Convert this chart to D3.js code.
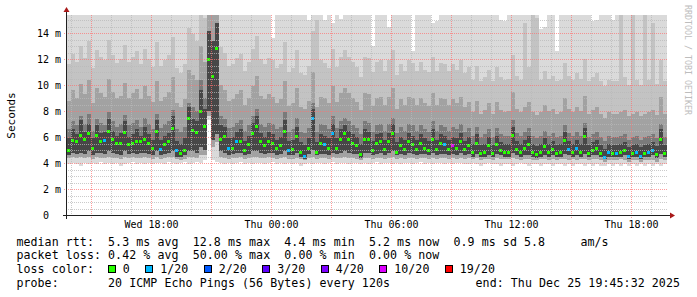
<!DOCTYPE html>
<html>
<head>
<meta charset="utf-8">
<script src="https://cdn.jsdelivr.net/npm/d3@7"></script>
<style>
  body { margin: 0; background: #fff; }
  svg text { font-family: "DejaVu Sans Mono", monospace; white-space: pre; }
</style>
</head>
<body>
<div id="chart"></div>
<script>
// one sample every 12 minutes, 30 hours shown
const startTime = "2025-12-24T13:48:00Z";
const stepMinutes = 12;

// median rtt per sample (ms)
const median = [
  4.9, 5.7, 5.6, 6.1, 5.8, 6.2, 5.1, 6.1, 5.6, 5.7,
  6.4, 5.8, 5.5, 5.5, 6.3, 5.4, 5.5, 5.6, 5.6, 5.8,
  5.5, 5.1, 6.4, 5.0, 5.4, 5.6, 6.6, 4.9, 4.7, 4.9,
  7.4, 6.5, 6.3, 7.9, 6.8, 11.9, 10.6, 12.8, 5.8, 6.0,
  5.1, 5.1, 5.6, 5.6, 4.9, 5.4, 6.2, 6.8, 5.6, 5.3,
  5.6, 5.5, 5.1, 5.3, 6.4, 4.9, 5.0, 6.0, 4.8, 4.5,
  5.1, 7.4, 4.8, 5.5, 5.4, 5.1, 6.2, 5.1, 5.8, 6.2,
  5.8, 5.5, 5.3, 4.6, 5.8, 5.8, 4.9, 5.5, 5.6, 5.0,
  5.6, 6.2, 4.8, 5.3, 5.0, 5.6, 5.4, 5.0, 5.5, 5.1,
  4.9, 5.8, 5.0, 5.5, 5.4, 5.0, 5.3, 5.1, 5.6, 5.0,
  5.3, 4.8, 5.5, 4.7, 4.8, 5.3, 4.7, 5.4, 4.9, 4.8,
  4.8, 6.1, 5.0, 4.8, 5.1, 5.4, 4.8, 4.6, 4.8, 5.2,
  4.8, 5.0, 4.7, 4.8, 5.7, 5.0, 4.8, 5.1, 4.8, 6.0,
  4.7, 4.9, 5.1, 4.7, 4.4, 4.8, 4.7, 4.7, 4.8, 4.9,
  4.5, 4.7, 4.8, 4.5, 4.7, 4.8, 4.9, 4.6, 5.8, 4.7
];

// smoke: spread of the 20 pings per sample (ms), bottom to top
const minRtt = [
  3.9, 4.0, 3.9, 3.8, 4.0, 3.9, 4.0, 3.9, 4.1, 3.9,
  4.0, 3.9, 4.0, 3.8, 3.9, 4.0, 4.1, 3.9, 4.0, 3.9,
  4.0, 3.9, 4.0, 4.0, 3.9, 4.1, 4.0, 3.9, 4.0, 4.1,
  3.9, 4.0, 4.1, 4.0, 4.2, 7.3, 4.2, 4.1, 4.0, 3.9,
  4.0, 3.9, 4.0, 4.1, 3.9, 4.0, 3.9, 4.0, 4.0, 3.9,
  4.0, 4.1, 3.9, 4.0, 3.9, 4.0, 3.9, 4.0, 3.8, 3.9,
  4.0, 3.9, 4.0, 4.0, 3.9, 4.0, 4.1, 3.9, 4.0, 4.0,
  3.9, 4.0, 4.0, 3.9, 4.0, 3.9, 4.0, 4.1, 3.9, 4.0,
  4.0, 3.9, 4.0, 3.9, 4.0, 4.0, 3.9, 4.0, 4.1, 3.9,
  4.0, 3.9, 4.0, 4.0, 3.9, 4.0, 3.9, 4.0, 4.0, 3.9,
  3.9, 4.0, 3.9, 3.8, 3.9, 4.0, 3.9, 3.9, 3.8, 3.9,
  3.9, 3.8, 3.9, 4.0, 3.9, 3.8, 3.9, 3.9, 3.8, 3.9,
  3.9, 3.8, 3.9, 3.9, 3.8, 3.9, 3.8, 3.9, 3.9, 3.8,
  3.9, 3.8, 3.9, 3.8, 3.8, 3.9, 3.8, 3.9, 3.8, 3.9,
  3.8, 3.9, 3.8, 3.9, 3.8, 3.9, 3.8, 3.9, 3.8, 3.9
];
const baseRtt = [
  4.4, 4.5, 4.4, 4.5, 4.4, 4.5, 4.3, 4.5, 4.4, 4.4,
  4.5, 4.4, 4.4, 4.3, 4.5, 4.4, 4.5, 4.4, 4.4, 4.5,
  4.4, 4.3, 4.5, 4.3, 4.4, 4.5, 4.5, 4.3, 4.2, 4.3,
  4.5, 4.5, 4.4, 4.6, 4.6, 7.6, 5.2, 5.6, 4.5, 4.4,
  4.3, 4.4, 4.4, 4.5, 4.3, 4.4, 4.5, 4.5, 4.4, 4.4,
  4.5, 4.4, 4.3, 4.4, 4.5, 4.3, 4.3, 4.4, 4.3, 4.2,
  4.4, 4.5, 4.3, 4.4, 4.4, 4.3, 4.5, 4.4, 4.4, 4.5,
  4.4, 4.4, 4.3, 4.2, 4.4, 4.4, 4.3, 4.4, 4.4, 4.3,
  4.4, 4.5, 4.3, 4.4, 4.3, 4.4, 4.4, 4.3, 4.4, 4.4,
  4.3, 4.4, 4.3, 4.4, 4.4, 4.3, 4.4, 4.3, 4.4, 4.3,
  4.4, 4.3, 4.4, 4.2, 4.3, 4.3, 4.2, 4.4, 4.3, 4.3,
  4.3, 4.4, 4.3, 4.2, 4.3, 4.3, 4.2, 4.2, 4.3, 4.3,
  4.2, 4.3, 4.2, 4.3, 4.3, 4.2, 4.3, 4.2, 4.3, 4.3,
  4.2, 4.3, 4.3, 4.2, 4.1, 4.2, 4.2, 4.2, 4.3, 4.2,
  4.1, 4.2, 4.2, 4.1, 4.2, 4.2, 4.2, 4.1, 4.3, 4.2
];
const lowRtt = [
  4.6, 4.8, 4.7, 4.8, 4.7, 4.9, 4.6, 4.8, 4.8, 4.7,
  4.9, 4.8, 4.7, 4.6, 4.9, 4.7, 4.8, 4.7, 4.8, 4.8,
  4.7, 4.6, 4.9, 4.6, 4.7, 4.8, 4.9, 4.5, 4.5, 4.6,
  4.9, 4.9, 4.8, 5.2, 5.0, 8.0, 5.8, 6.2, 4.9, 4.8,
  4.6, 4.7, 4.8, 4.8, 4.6, 4.7, 4.9, 4.9, 4.8, 4.7,
  4.8, 4.8, 4.6, 4.7, 4.9, 4.6, 4.6, 4.8, 4.5, 4.3,
  4.7, 5.0, 4.6, 4.7, 4.7, 4.6, 4.8, 4.7, 4.8, 4.9,
  4.8, 4.7, 4.7, 4.4, 4.8, 4.8, 4.6, 4.7, 4.8, 4.6,
  4.8, 4.9, 4.6, 4.7, 4.6, 4.8, 4.7, 4.6, 4.7, 4.7,
  4.6, 4.8, 4.6, 4.7, 4.7, 4.6, 4.7, 4.6, 4.8, 4.6,
  4.7, 4.5, 4.7, 4.5, 4.5, 4.6, 4.5, 4.7, 4.6, 4.5,
  4.5, 4.8, 4.6, 4.5, 4.6, 4.6, 4.5, 4.4, 4.5, 4.6,
  4.5, 4.6, 4.5, 4.5, 4.7, 4.6, 4.5, 4.6, 4.5, 4.7,
  4.5, 4.6, 4.6, 4.5, 4.3, 4.5, 4.5, 4.5, 4.5, 4.6,
  4.3, 4.5, 4.5, 4.3, 4.5, 4.5, 4.6, 4.4, 4.7, 4.5
];
const darkTop = [
  5.9, 6.6, 6.2, 7.3, 6.4, 7.0, 5.9, 6.9, 6.3, 6.4,
  7.4, 6.5, 6.1, 6.3, 7.2, 6.0, 6.2, 6.6, 6.1, 6.8,
  6.2, 5.8, 7.3, 5.8, 6.1, 6.3, 7.6, 5.7, 5.5, 5.9,
  8.3, 7.4, 7.2, 9.6, 8.2, 14.2, 13.4, 14.8, 6.9, 6.8,
  5.9, 6.0, 6.4, 6.6, 5.7, 6.1, 7.1, 7.6, 6.3, 6.0,
  6.4, 6.2, 5.8, 6.0, 7.3, 5.7, 5.8, 6.8, 5.6, 5.4,
  5.9, 8.2, 5.6, 6.2, 6.1, 5.9, 7.0, 5.9, 6.6, 6.9,
  6.5, 6.2, 6.0, 5.5, 6.6, 6.4, 5.7, 6.2, 6.3, 5.8,
  6.3, 7.0, 5.6, 6.0, 5.8, 6.3, 6.1, 5.8, 6.2, 5.9,
  5.7, 6.6, 5.8, 6.2, 6.1, 5.8, 6.0, 5.9, 6.3, 5.7,
  6.0, 5.5, 6.2, 5.4, 5.5, 6.0, 5.4, 6.1, 5.6, 5.5,
  5.5, 6.8, 5.7, 5.5, 5.8, 6.1, 5.5, 5.3, 5.5, 5.9,
  5.5, 5.7, 5.4, 5.5, 6.4, 5.7, 5.5, 5.8, 5.5, 6.7,
  5.4, 5.6, 5.8, 5.4, 5.1, 5.5, 5.4, 5.4, 5.5, 5.6,
  5.2, 5.4, 5.5, 5.2, 5.4, 5.5, 5.6, 5.3, 6.6, 5.4
];
const upperRtt = [
  6.6, 7.2, 6.9, 7.6, 7.0, 7.8, 6.5, 7.4, 7.1, 6.9,
  7.9, 7.2, 6.8, 7.0, 7.7, 6.9, 7.1, 7.3, 6.8, 7.5,
  7.0, 6.6, 7.8, 6.7, 7.0, 7.2, 8.1, 6.6, 6.4, 6.8,
  8.6, 8.3, 8.0, 10.4, 9.0, 14.2, 13.4, 14.8, 7.6, 7.4,
  6.7, 6.8, 7.1, 7.3, 6.5, 6.9, 7.6, 8.2, 7.0, 6.8,
  7.1, 7.0, 6.6, 6.8, 7.9, 6.4, 6.6, 7.5, 6.4, 6.3,
  6.7, 8.6, 6.4, 7.0, 6.9, 6.6, 7.6, 6.7, 7.2, 7.5,
  7.2, 6.9, 6.7, 6.2, 7.2, 7.1, 6.4, 6.9, 7.0, 6.5,
  7.0, 7.5, 6.3, 6.8, 6.5, 7.0, 6.9, 6.5, 6.9, 6.6,
  6.4, 7.2, 6.5, 6.9, 6.8, 6.5, 6.8, 6.6, 7.0, 6.4,
  6.7, 6.1, 6.8, 6.0, 6.2, 6.6, 6.0, 6.7, 6.2, 6.1,
  6.1, 7.3, 6.3, 6.1, 6.4, 6.7, 6.1, 5.9, 6.1, 6.5,
  6.1, 6.3, 6.0, 6.1, 6.9, 6.3, 6.1, 6.4, 6.1, 7.1,
  6.0, 6.2, 6.4, 6.0, 5.7, 6.1, 6.0, 6.0, 6.1, 6.2,
  5.8, 6.0, 6.1, 5.8, 6.0, 6.1, 6.2, 5.9, 7.0, 6.0
];
const midTop = [
  8.8, 9.6, 9.0, 10.1, 9.3, 10.4, 8.6, 9.8, 9.4, 9.1,
  10.5, 9.5, 9.0, 9.2, 10.2, 9.0, 9.4, 9.7, 8.9, 9.9,
  9.2, 8.7, 10.3, 8.8, 9.1, 9.5, 10.6, 8.6, 8.3, 8.9,
  11.2, 10.8, 10.4, 13.0, 11.8, 16.0, 16.0, 16.0, 10.0, 9.6,
  8.8, 8.9, 9.3, 9.6, 8.5, 9.0, 9.9, 10.7, 9.2, 8.9,
  9.3, 9.1, 8.6, 8.9, 10.3, 8.4, 8.6, 9.8, 8.3, 8.2,
  8.8, 11.0, 8.3, 9.1, 9.0, 8.6, 9.9, 8.7, 9.4, 9.8,
  9.4, 9.0, 8.7, 8.1, 9.4, 9.3, 8.4, 9.0, 9.1, 8.5,
  9.1, 9.8, 8.2, 8.9, 8.5, 9.1, 9.0, 8.5, 9.0, 8.6,
  8.4, 9.4, 8.5, 9.0, 8.9, 8.5, 8.9, 8.6, 9.1, 8.3,
  8.7, 7.9, 8.8, 7.8, 8.1, 8.6, 7.8, 8.7, 8.1, 7.9,
  8.0, 9.5, 8.2, 7.9, 8.3, 8.7, 7.9, 7.7, 7.9, 8.5,
  8.0, 8.2, 7.8, 7.9, 9.0, 8.2, 7.9, 8.3, 8.0, 9.2,
  7.8, 8.1, 8.3, 7.8, 7.5, 7.9, 7.8, 7.8, 7.9, 8.1,
  7.6, 7.8, 7.9, 7.6, 7.8, 7.9, 8.1, 7.7, 9.1, 7.8
];
const lightTop = [
  11.6, 12.4, 11.8, 13.0, 12.1, 13.4, 11.3, 12.7, 12.2, 11.9,
  13.5, 12.3, 11.7, 12.0, 13.1, 11.8, 12.2, 12.6, 11.6, 12.8,
  12.0, 11.4, 13.3, 11.5, 11.9, 12.3, 13.7, 11.3, 10.9, 11.6,
  14.4, 13.9, 13.4, 16.0, 15.2, 16.0, 16.0, 16.0, 12.9, 12.5,
  11.5, 11.6, 12.1, 12.4, 11.1, 11.8, 12.8, 13.8, 12.0, 11.6,
  12.1, 11.9, 11.3, 11.6, 13.3, 11.0, 11.3, 12.7, 10.9, 10.8,
  11.5, 14.2, 15.0, 11.9, 11.7, 11.3, 12.8, 11.4, 12.2, 12.7,
  12.2, 11.8, 11.4, 10.6, 12.2, 12.1, 11.0, 11.8, 11.9, 11.1,
  11.9, 12.7, 10.8, 11.6, 11.1, 11.9, 11.7, 11.1, 11.8, 11.2,
  11.0, 12.2, 11.1, 11.7, 11.6, 11.1, 11.6, 11.2, 11.9, 10.9,
  11.4, 10.4, 11.5, 10.3, 10.6, 11.2, 10.3, 11.4, 10.6, 10.4,
  10.5, 12.3, 10.7, 10.4, 14.8, 11.4, 16.0, 15.2, 10.4, 11.1,
  10.5, 10.7, 10.3, 10.4, 11.7, 10.7, 10.4, 10.9, 10.5, 12.0,
  10.3, 10.6, 10.9, 10.3, 9.9, 10.4, 10.3, 10.3, 16.0, 10.6,
  10.0, 15.5, 10.4, 10.0, 16.0, 10.4, 14.8, 10.1, 11.9, 10.3
];
const maxRtt = [
  16, 16, 16, 16, 16, 16, 16, 16, 16, 16,
  16, 16, 16, 16, 16, 16, 16, 16, 16, 16,
  16, 16, 16, 16, 16, 16, 16, 16, 16, 16,
  16, 16, 16, 16, 16, 16, 16, 16, 16, 16,
  16, 16, 16, 16, 16, 16, 16, 16, 16, 16,
  16, 13.6, 16, 16, 16, 16, 16, 16, 16, 16,
  15.0, 16, 16, 16, 15.0, 16, 14.8, 16, 15.1, 16,
  16, 16, 16, 16, 16, 16, 13.0, 16, 16, 16,
  14.5, 16, 16, 16, 16, 16, 12.6, 16, 16, 16,
  16, 14.8, 14.9, 16, 16, 16, 16, 16, 16, 16,
  16, 16, 16, 16, 16, 16, 16, 16, 15.0, 14.9,
  16, 16, 16, 16, 16, 16, 16, 16, 14.3, 14.5,
  16, 16, 12.6, 16, 16, 16, 16, 16, 16, 16,
  16, 14.9, 15.0, 16, 16, 16, 15.0, 16, 16, 16,
  16, 16, 16, 16, 16, 16, 16, 16, 16, 16
];

// samples that lost pings (index, lost of 20)
const lossAt = [9, 23, 27, 40, 42, 55, 59, 61, 64, 66, 94, 96, 125, 127, 134, 135, 137, 140, 142, 143, 145, 146];
const lossCount = [1, 1, 1, 1, 1, 1, 1, 1, 1, 1, 1, 10, 1, 1, 1, 1, 1, 1, 1, 1, 1, 1];

const lossLevels = [0, 1, 2, 3, 4, 10, 19];
const lossLabels = ["0", "1/20", "2/20", "3/20", "4/20", "10/20", "19/20"];
const lossColors = ["#26ff00", "#00b8ff", "#0059ff", "#5e00ff", "#7e00ff", "#dd00ff", "#ff0000"];

const rttStats = [5.3, 12.8, 4.4, 5.2];  // avg max min now
const rttSd = 0.9;
const rttAms = 5.8;
const lossStats = [0.42, 50.00, 0.00, 0.00];
const probeText = "20 ICMP Echo Pings (56 Bytes) every 120s";
const endText = "end: Thu Dec 25 19:45:32 2025";

var smokeChart = function () {
  let width = 697;
  let height = 297;
  let plot = {left: 67, top: 15, width: 600, height: 200};
  let yMax = 15.4;

  let charW = 7.05;

  function chart(selection) {
    const svg = selection.append("svg")
      .attr("width", width)
      .attr("height", height)
      .style("display", "block");

    svg.append("rect").attr("width", width).attr("height", height).attr("fill", "#fff");

    const t0 = new Date(startTime);
    const step = stepMinutes * 60 * 1000;
    const x = d3.scaleUtc()
      .domain([t0, new Date(+t0 + 30 * 3600 * 1000)])
      .range([plot.left, plot.left + plot.width]);
    const y = d3.scaleLinear()
      .domain([0, yMax])
      .range([plot.top + plot.height, plot.top])
      .clamp(true);

    const data = median.map((m, i) => ({
      t: new Date(+t0 + i * step),
      t1: new Date(+t0 + (i + 1) * step),
      median: m, min: minRtt[i], base: baseRtt[i], low: lowRtt[i],
      dark: darkTop[i], upper: upperRtt[i], mid: midTop[i],
      light: lightTop[i], max: maxRtt[i],
      loss: 0
    }));
    lossAt.forEach((idx, k) => { data[idx].loss = lossCount[k]; });

    const lossColor = n => {
      let c = lossColors[0];
      lossLevels.forEach((lv, k) => { if (n >= lv) c = lossColors[k]; });
      return c;
    };

    // smoke bands, outer (light) first, darkest last
    const bands = [
      {lo: "min", hi: "max", color: "#dadada"},
      {lo: "base", hi: "light", color: "#c3c3c3"},
      {lo: "base", hi: "mid", color: "#a2a2a2"},
      {lo: "low", hi: "upper", color: "#7a7a7a"},
      {lo: "low", hi: "dark", color: "#474747"}
    ];

    const smoke = svg.append("g").attr("shape-rendering", "crispEdges");
    bands.forEach(b => {
      smoke.append("g")
        .selectAll("rect")
        .data(data)
        .enter().append("rect")
          .attr("x", d => x(d.t))
          .attr("width", d => x(d.t1) - x(d.t))
          .attr("y", d => y(d[b.hi]))
          .attr("height", d => y(d[b.lo]) - y(d[b.hi]))
          .attr("fill", b.color);
    });

    // median, coloured by loss
    svg.append("g")
      .attr("shape-rendering", "crispEdges")
      .selectAll("rect")
      .data(data)
      .enter().append("rect")
        .attr("x", d => x(d.t))
        .attr("width", 3)
        .attr("y", d => Math.round(y(d.median)) - 2)
        .attr("height", 3)
        .attr("fill", d => lossColor(d.loss));

    // grid (drawn over the smoke like rrdtool does)
    const grid = svg.append("g").attr("shape-rendering", "crispEdges");
    const yBottom = plot.top + plot.height;
    const xRight = plot.left + plot.width;
    const hourTicks = x.ticks(d3.utcHour.every(1));
    const majorX = x.ticks(d3.utcHour.every(3)).map(d => +d);

    grid.selectAll("line.vminor")
      .data(hourTicks.filter(d => majorX.indexOf(+d) < 0))
      .enter().append("line")
        .attr("x1", d => Math.round(x(d)) + 0.5).attr("x2", d => Math.round(x(d)) + 0.5)
        .attr("y1", plot.top).attr("y2", yBottom + 2)
        .attr("stroke", "#b8b8b8").attr("stroke-opacity", 0.75)
        .attr("stroke-dasharray", "1,1");
    grid.selectAll("line.vmajor")
      .data(majorX)
      .enter().append("line")
        .attr("x1", d => Math.round(x(d)) + 0.5).attr("x2", d => Math.round(x(d)) + 0.5)
        .attr("y1", plot.top).attr("y2", yBottom + 3)
        .attr("stroke", "#ff7070").attr("stroke-opacity", 0.7)
        .attr("stroke-dasharray", "1,1");

    const majorY = y.ticks(8);
    grid.selectAll("line.hminor")
      .data(y.ticks(30).filter(d => majorY.indexOf(d) < 0))
      .enter().append("line")
        .attr("x1", plot.left - 1).attr("x2", xRight)
        .attr("y1", d => Math.round(y(d)) + 0.5).attr("y2", d => Math.round(y(d)) + 0.5)
        .attr("stroke", "#b8b8b8").attr("stroke-opacity", 0.75)
        .attr("stroke-dasharray", "1,1");
    grid.selectAll("line.hmajor")
      .data(majorY.filter(d => d > 0))
      .enter().append("line")
        .attr("x1", plot.left - 3).attr("x2", xRight)
        .attr("y1", d => Math.round(y(d)) + 0.5).attr("y2", d => Math.round(y(d)) + 0.5)
        .attr("stroke", "#ff7070").attr("stroke-opacity", 0.7)
        .attr("stroke-dasharray", "1,1");

    // axes lines + arrows
    const axisColor = "#202020";
    const arrowColor = "#a81818";
    svg.append("line")
      .attr("x1", plot.left - 4).attr("x2", xRight + 4)
      .attr("y1", yBottom + 0.5).attr("y2", yBottom + 0.5)
      .attr("stroke", axisColor).attr("shape-rendering", "crispEdges");
    svg.append("line")
      .attr("x1", plot.left - 0.5).attr("x2", plot.left - 0.5)
      .attr("y1", yBottom + 4).attr("y2", plot.top - 4)
      .attr("stroke", axisColor).attr("shape-rendering", "crispEdges");
    svg.append("path")
      .attr("d", `M${xRight + 3},${yBottom - 2.5}L${xRight + 8},${yBottom + 0.5}L${xRight + 3},${yBottom + 3.5}Z`)
      .attr("fill", arrowColor);
    svg.append("path")
      .attr("d", `M${plot.left - 3.5},${plot.top - 3}L${plot.left - 0.5},${plot.top - 8}L${plot.left + 2.5},${plot.top - 3}Z`)
      .attr("fill", arrowColor);

    // tick labels
    const xAxis = svg.append("g")
      .attr("transform", `translate(0,${yBottom})`)
      .call(d3.axisBottom(x)
        .tickValues(x.ticks(d3.utcHour.every(6)))
        .tickFormat(d3.utcFormat("%a %H:%M"))
        .tickSize(0)
        .tickPadding(6));
    xAxis.select(".domain").remove();
    xAxis.attr("font-family", null).attr("font-size", 10);
    xAxis.selectAll("text").attr("fill", "#000");

    const yAxis = svg.append("g")
      .attr("transform", `translate(${plot.left},0)`)
      .call(d3.axisLeft(y)
        .tickValues(majorY)
        .tickFormat(d => d === 0 ? "0  " : d + " m")
        .tickSize(0)
        .tickPadding(6));
    yAxis.select(".domain").remove();
    yAxis.attr("font-family", null).attr("font-size", 10);
    yAxis.selectAll("text").attr("fill", "#000").attr("xml:space", "preserve");

    svg.append("text")
      .attr("transform", `translate(15,${plot.top + plot.height / 2 + 0.5}) rotate(-90)`)
      .attr("text-anchor", "middle")
      .attr("font-size", 11)
      .text("Seconds");

    svg.append("text")
      .attr("transform", `translate(685,5) rotate(90)`)
      .attr("font-size", 8.3)
      .attr("fill", "#bdbdbd")
      .text("RRDTOOL / TOBI OETIKER");

    // legend
    const f1 = d3.format(".1f");
    const f2 = d3.format(".2f");
    const rows = [
      `median rtt:  ${f1(rttStats[0])} ms avg  ${f1(rttStats[1])} ms max  ${f1(rttStats[2])} ms min  ${f1(rttStats[3])} ms now  ${f1(rttSd)} ms sd ${f1(rttAms)}     am/s`,
      `packet loss: ${f2(lossStats[0])} % avg  ${f2(lossStats[1])} % max  ${f2(lossStats[2])} % min  ${f2(lossStats[3])} % now`,
      "loss color:",
      "probe:       " + probeText
    ];
    const baselines = [245.5, 259.2, 272.9, 286.6];
    const legend = svg.append("g")
      .attr("font-size", 11.6)
      .style("letter-spacing", "0.07px");

    legend.selectAll("text.row")
      .data(rows)
      .enter().append("text")
        .attr("class", "row")
        .attr("xml:space", "preserve")
        .attr("x", 16.4)
        .attr("y", (d, i) => baselines[i])
        .text(d => d);

    legend.append("text")
      .attr("x", 680)
      .attr("y", baselines[3])
      .attr("text-anchor", "end")
      .text(endText);

    let bx = 16.4 + 13 * charW;
    lossLabels.forEach((lbl, k) => {
      legend.append("rect")
        .attr("x", Math.round(bx) + 0.5).attr("y", 265.5)
        .attr("width", 7).attr("height", 7)
        .attr("fill", lossColors[k])
        .attr("stroke", "#000")
        .attr("shape-rendering", "crispEdges");
      const lx = bx + 14.8;
      legend.append("text")
        .attr("x", lx)
        .attr("y", baselines[2])
        .text(lbl);
      bx = lx + lbl.length * charW + 15.5;
    });
  }

  chart.width = function (value) {
    if (!arguments.length) return width;
    width = value;
    return chart;
  };

  chart.height = function (value) {
    if (!arguments.length) return height;
    height = value;
    return chart;
  };

  return chart;
};

smokeChart()(d3.select("#chart"));
</script>
</body>
</html>
